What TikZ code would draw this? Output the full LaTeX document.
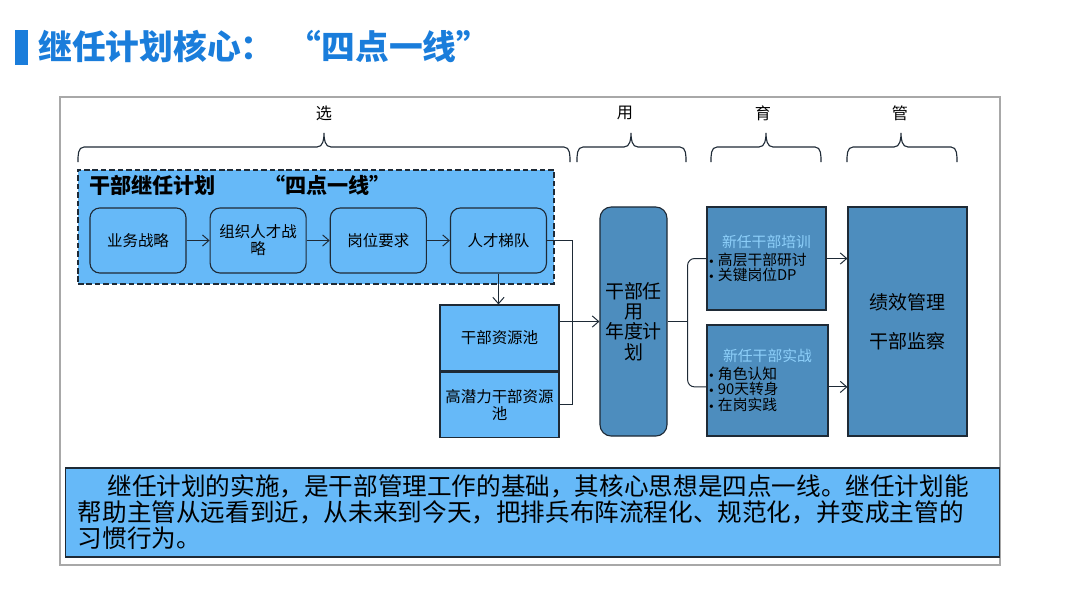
\documentclass[tikz,border=0pt]{standalone}
\usepackage{fontspec}
\setmainfont{Noto Sans CJK SC}
\usetikzlibrary{arrows.meta,positioning,calc}
\definecolor{mBlue}{HTML}{1A7DDB}
\definecolor{mSky}{HTML}{66B9F8}
\definecolor{mSteel}{HTML}{4D8DBE}
\definecolor{mPale}{HTML}{8ED0FA}
\definecolor{mInk}{HTML}{1E2A36}
\definecolor{mFrame}{HTML}{A8A8A8}
\newcommand\blt{\makebox[0.225cm][l]{\raisebox{0.25ex}{\tiny$\bullet$}}}
\tikzset{
  nd/.style   = {draw=mInk, fill=mSky, line width=0.8pt, align=center,
                 font=\fontsize{11pt}{12pt}\selectfont, inner sep=1pt},
  ndr/.style  = {nd, rounded corners=7pt, minimum width=2.4cm, minimum height=1.625cm},
  nds/.style  = {nd, fill=mSteel},
  ar/.style   = {-{Straight Barb[length=1.6mm,width=2.8mm]}, draw=mInk, line width=0.7pt},
  ln/.style   = {draw=mInk, line width=0.7pt},
  brc/.style  = {draw=mInk, line width=0.8pt},
  lbl/.style  = {font=\fontsize{11.5pt}{13pt}\selectfont},
}
\begin{document}
\begin{tikzpicture}[x=0.025cm, y=-0.025cm]
  \useasboundingbox (0,0) rectangle (1080,608);
  % title
  \fill[mBlue] (15,30) rectangle (28,65);
  \node[anchor=west, inner sep=0pt, text=mBlue, font=\fontsize{24pt}{28pt}\selectfont\bfseries]
    (ttl) at (38,47) {继任计划核心：\hspace{0.4em}“四点一线”};
  \draw[mFrame, line width=1.4pt] (60,97) rectangle (1000,565);

  % braces: left/tip/right
  \foreach \l/\m/\r in {78/324/570, 577/631/686, 711/766/821, 847/901/957}
    \draw[brc] (\l,162) to[out=90,in=180] (\l+6,147) -- (\m-7,147)
      to[out=0,in=-90] (\m,133) to[out=-90,in=180] (\m+7,147) -- (\r-6,147)
      to[out=0,in=90] (\r,162);
  \node[lbl] (sel) at (324,113) {选};
  \node[lbl] (apt) at (625,113) {用};
  \node[lbl] (dev) at (763,113) {育};
  \node[lbl] (mng) at (900,113) {管};

  % four points, one line
  \node[draw=mInk, dash pattern=on 4pt off 2pt, fill=mSky, line width=1pt,
        minimum width=11.9cm, minimum height=2.85cm, inner sep=0pt] (grp) at (316,227) {};
  \node[anchor=west, inner sep=0pt, font=\fontsize{15pt}{17pt}\selectfont\bfseries]
    (gtl) at (89,185) {干部继任计划};
  \node[anchor=west, inner sep=0pt, font=\fontsize{15pt}{17pt}\selectfont\bfseries]
    (gq) at (264,185) {“四点一线”};
  \node[ndr] (biz) at (138,240.5) {业务战略};
  \node[ndr, right=0.575cm of biz]  (org)    {组织人才战\\略};
  \node[ndr, right=0.575cm of org]  (post)   {岗位要求};
  \node[ndr, right=0.575cm of post] (ladder) {人才梯队};
  \foreach \a/\b in {biz/org, org/post, post/ladder}
    \draw[ar] (\a) -- (\b);

  \node[nd, minimum width=2.975cm, minimum height=1.65cm] (pool) at (499.5,338) {干部资源池};
  \node[nd, minimum width=2.975cm, minimum height=1.625cm, below=0pt of pool]
    (hipool) {高潜力干部资源\\池};

  \node[nds, rounded corners=8pt, minimum width=1.675cm, minimum height=5.725cm,
        font=\fontsize{13.5pt}{14.5pt}\selectfont] (use) at (633.5,321.5) {干部任\\用\\年度计\\划};

  \node[nds, minimum width=2.975cm, minimum height=2.575cm, text width=2.875cm, inner sep=0.05cm,
        align=left, font=\fontsize{10.5pt}{11pt}\selectfont] (train) at (766.5,258.5)
    {\makebox[\hsize]{\color{mPale}新任干部培训}\\[1.5pt]\blt 高层干部研讨\\\blt 关键岗位DP};
  \node[nds, minimum width=3.025cm, minimum height=2.775cm, text width=2.925cm, inner sep=0.05cm,
        align=left, font=\fontsize{10.5pt}{11pt}\selectfont] (prac) at (767.5,380.5)
    {\makebox[\hsize]{\color{mPale}新任干部实战}\\[1.5pt]\blt 角色认知\\\blt 90天转身\\\blt 在岗实践};
  \node[nds, minimum width=2.975cm, minimum height=5.725cm,
        font=\fontsize{13.5pt}{28pt}\selectfont] (mgmt) at (907.5,321.5) {绩效管理\\干部监察};

  % connectors
  \draw[ar] (ladder.south) -- (ladder.south |- pool.north);
  \coordinate (jn) at (572,0);
  \draw[ln] (ladder.east) -| (jn |- hipool.east) -- (hipool.east);
  \draw[ar] (pool.east |- use.west) -- (use.west);
  \coordinate (fk) at ($(use.east)+(20,0)$);
  \coordinate (pin) at ([yshift=-0.16cm]prac.west);
  \coordinate (pout) at ([yshift=-0.16cm]prac.east);
  \draw[ln] (use.east) -- (fk);
  \draw[ln, rounded corners=5pt] (train.west) -| (fk) |- (pin);
  \draw[ar] (train.east) -- (train.east -| mgmt.west);
  \draw[ar] (pout) -- (pout -| mgmt.west);

  % note
  \node[nd, minimum width=23.325cm, minimum height=2.225cm, text width=22.725cm, inner xsep=0.3cm,
        align=left, font=\fontsize{17.5pt}{18.5pt}\selectfont] (note) at (532.5,512.5)
    {\hspace*{1.2em}继任计划的实施，是干部管理工作的基础，其核心思想是四点一线。继任计划能\\
     帮助主管从远看到近，从未来到今天，把排兵布阵流程化、规范化，并变成主管的\\
     习惯行为。};
\end{tikzpicture}
\end{document}
